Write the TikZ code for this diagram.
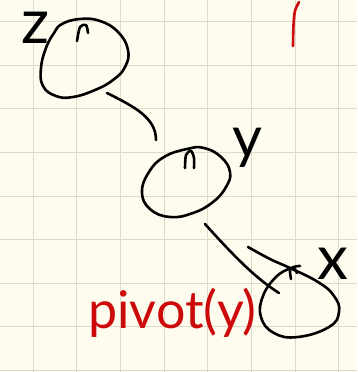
\documentclass[tikz,border=0pt]{standalone}
\usepackage{fontspec}
\newfontfamily\handfont{Lato}

\definecolor{paper}{HTML}{FEFCEE}
\definecolor{gridline}{HTML}{DEDBCB}
\definecolor{pen}{HTML}{CC0A0A}

\tikzset{
  ink/.style={line width=2.6pt, line cap=round, line join=round},
  redink/.style={ink, draw=pen},
  letter/.style={font=\handfont\fontsize{62}{62}\selectfont, inner sep=0pt, text height=0.52em, text depth=0.2em},
  redletter/.style={font=\handfont\fontsize{52}{52}\selectfont, inner sep=0pt, text=pen},
}

\begin{document}
\begin{tikzpicture}[x=1pt, y=-1pt]
    % paper and grid
    \fill[paper] (0,0) rectangle (357,372);
    \useasboundingbox (0,0) rectangle (357,372);
    \foreach \i in {0,...,7} \draw[gridline, line width=1pt] ({33.3+43.65*\i},0) -- ++(0,372);
    \foreach \j in {0,...,8} \draw[gridline, line width=1pt] (0,{21.7+43.6*\j}) -- ++(357,0);

    % ===== Tree nodes =====
    % z (root)
    \draw[ink] plot[smooth cycle, tension=0.75] coordinates {(62,24) (80,19) (100,21) (118,32) (128,50) (125,67) (113,80) (95,90) (73,97) (56,96) (43,86) (41,68) (46,48) (54,33)};
    \draw[ink] plot[smooth] coordinates {(77,41) (80,27) (86,25) (88,33)};
    \node[letter, anchor=base, text depth=0pt] (zlabel) at (36,43) {z};

    % y
    \draw[ink] plot[smooth cycle, tension=0.75] coordinates {(230,172) (221,157) (204,148) (187,149) (164,157) (149,172) (142,192) (150,209) (170,217) (193,213) (213,202) (226,187)};
    \draw[ink] plot[smooth] coordinates {(185,168) (186,155) (191,151) (194,158) (194,168)};
    \node[letter, anchor=base, font=\handfont\fontsize{58}{58}\selectfont] (ylabel) at (247,157) {y};

    % x (open stroke, starts outside)
    \draw[ink] plot[smooth, tension=0.75] coordinates {(248,247) (270,259) (290,268) (318,282) (334,296) (339,312) (329,327) (298,337) (274,333) (261,317) (263,296) (276,277) (291,268) (300,266)};
    \draw[ink] plot[smooth] coordinates {(291,279) (290,270) (294,268) (297,273)};
    \node[letter, anchor=base] (xlabel) at (333,279) {x};

    % ===== Edges =====
    \coordinate (zout) at (107,93);
    \coordinate (yin) at (156,140);
    \coordinate (yout) at (205,224);
    \coordinate (xin) at (279,293);
    \draw[ink] (zout) .. controls (135,107) and (156,118) .. (yin);
    \draw[ink] (yout) .. controls (232,254) and (255,278) .. (xin);

    % ===== Red notes =====
    \node[redletter, anchor=base west] (pivot) at (88,328) {pivot(y)};
    \draw[redink] plot[smooth] coordinates {(293,46) (293.5,25) (295,11) (299,2)};
\end{tikzpicture}
\end{document}
